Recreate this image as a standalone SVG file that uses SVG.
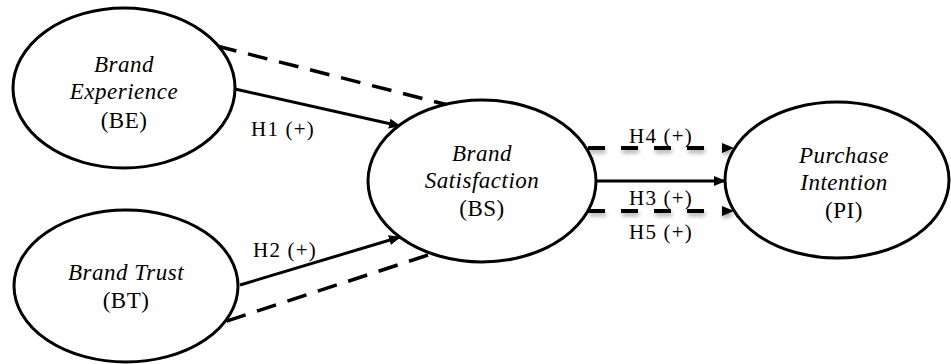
<svg xmlns="http://www.w3.org/2000/svg" width="951" height="364" viewBox="0 0 951 364">
<style>
.node ellipse{fill:#fff;stroke:#000;stroke-width:3}
.t{font-family:"Liberation Serif","Times New Roman",serif;font-size:23px;letter-spacing:0.5px;fill:#000;text-anchor:middle}
.i{font-style:italic}
.lbl{font-family:"Liberation Serif","Times New Roman",serif;font-size:21px;letter-spacing:1.2px;fill:#000;text-anchor:middle}
.solid{stroke:#000;stroke-width:3;fill:none}
.dash{stroke:#000;stroke-width:3.5;fill:none;stroke-dasharray:20 12}
.hdash{stroke:#000;stroke-width:4;fill:none;stroke-dasharray:17 16}
</style>
<defs>
<marker id="ah" viewBox="0 0 12 10" refX="11" refY="5" markerWidth="12" markerHeight="10" markerUnits="userSpaceOnUse" orient="auto">
<path d="M0,0 L12,5 L0,10 Z" fill="#000"/>
</marker>
<filter id="sh" x="-10%" y="-100%" width="120%" height="300%">
<feGaussianBlur in="SourceAlpha" stdDeviation="2"/>
<feOffset dx="1" dy="3" result="b"/>
<feComponentTransfer><feFuncA type="linear" slope="0.35"/></feComponentTransfer>
<feMerge><feMergeNode/><feMergeNode in="SourceGraphic"/></feMerge>
</filter>
</defs>
<g id="connectors">
<line class="dash" x1="217" y1="46" x2="448" y2="105"/>
<line class="dash" x1="428" y1="255" x2="221" y2="323"/>
<line class="solid" x1="235" y1="89" x2="400" y2="126" marker-end="url(#ah)"/>
<line class="solid" x1="240" y1="285" x2="400" y2="237" marker-end="url(#ah)"/>
<line class="solid" x1="597" y1="181" x2="725" y2="181" marker-end="url(#ah)"/>
<g filter="url(#sh)">
<line class="hdash" x1="588" y1="148" x2="706" y2="148"/>
<line class="hdash" x1="588" y1="211" x2="706" y2="211"/>
<path d="M722,143 L734,148 L722,153 Z" fill="#000"/>
<path d="M722,206 L734,211 L722,216 Z" fill="#000"/>
</g>
<text class="lbl" x="283" y="136">H1 (+)</text>
<text class="lbl" x="285" y="257">H2 (+)</text>
<text class="lbl" x="661" y="143">H4 (+)</text>
<text class="lbl" x="661" y="205">H3 (+)</text>
<text class="lbl" x="661" y="239">H5 (+)</text>
</g>
<g id="BE" class="node">
<ellipse cx="124" cy="88" rx="111" ry="80"/>
<text class="t i" x="124" y="72">Brand</text>
<text class="t i" x="124" y="99">Experience</text>
<text class="t" x="124" y="128">(BE)</text>
</g>
<g id="BT" class="node">
<ellipse cx="126" cy="286" rx="112" ry="76"/>
<text class="t i" x="126" y="280">Brand Trust</text>
<text class="t" x="126" y="308">(BT)</text>
</g>
<g id="BS" class="node">
<ellipse cx="482" cy="181" rx="114" ry="81"/>
<text class="t i" x="482" y="161">Brand</text>
<text class="t i" x="482" y="188">Satisfaction</text>
<text class="t" x="482" y="216">(BS)</text>
</g>
<g id="PI" class="node">
<ellipse cx="837" cy="180" rx="112" ry="78"/>
<text class="t i" x="844" y="163">Purchase</text>
<text class="t i" x="844" y="190">Intention</text>
<text class="t" x="844" y="218">(PI)</text>
</g>
</svg>
